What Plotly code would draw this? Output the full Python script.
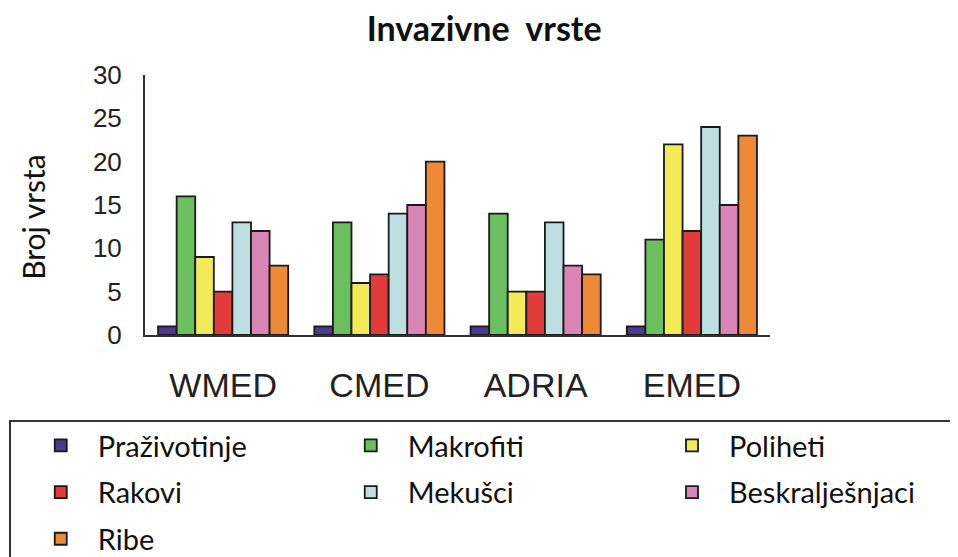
import plotly.graph_objects as go

regions = ['WMED', 'CMED', 'ADRIA', 'EMED']

skupine = ['Praživotinje', 'Makrofiti', 'Poliheti', 'Rakovi', 'Mekušci', 'Beskralješnjaci', 'Ribe']
prazivotinje = [1, 1, 1, 1]
makrofiti = [16, 13, 14, 11]
poliheti = [9, 6, 5, 22]
rakovi = [5, 7, 5, 12]
mekusci = [13, 14, 13, 24]
beskraljesnjaci = [12, 15, 8, 15]
ribe = [8, 20, 7, 23]

y_ticks = [0, 5, 10, 15, 20, 25, 30]

boje = ['#4B3A8F', '#6BBF5F', '#F2EA57', '#E23B3B', '#BEDFE2', '#D985B5', '#EE8936']
# legenda u tri stupca, kao na slici
legende = ['legend', 'legend2', 'legend3', 'legend', 'legend2', 'legend3', 'legend']

serije = [prazivotinje, makrofiti, poliheti, rakovi, mekusci, beskraljesnjaci, ribe]

fig = go.Figure()
for ime, vrijednosti, boja, leg in zip(skupine, serije, boje, legende):
    fig.add_trace(go.Bar(x=regions, y=vrijednosti, name=ime, legendgroup=ime, legend=leg,
                         marker=dict(color=boja, line=dict(color='#1a1a1a', width=1.8))))

tekst_font = 'Lato, Noto Sans, sans-serif'
leg_opts = dict(orientation='v', xanchor='left', yanchor='top', bgcolor='rgba(0,0,0,0)',
                borderwidth=0, itemwidth=64, tracegroupgap=6,
                font=dict(family=tekst_font, size=29, color='#111'))

# stranica ima 8px margine oko grafa, pa je sve pomaknuto za 8px
fig.update_layout(
    width=958, height=557,
    margin=dict(l=137, r=196, t=67, b=230, autoexpand=False),
    plot_bgcolor='white', paper_bgcolor='white',
    barmode='group', bargap=0.167, bargroupgap=0,
    title=dict(text='<b>Invazivne  vrste</b>', x=0.497, xref='container', xanchor='center',
               y=0.962, yanchor='middle', font=dict(family=tekst_font, size=34, color='#111')),
    legend=dict(x=-0.194, y=-0.327, **leg_opts),
    legend2=dict(x=0.302, y=-0.327, **leg_opts),
    legend3=dict(x=0.816, y=-0.327, **leg_opts),
)

fig.update_xaxes(showline=True, linecolor='#333', linewidth=2, showgrid=False, ticks='',
                 ticklabelstandoff=19, range=[-0.5, 3.5],
                 tickfont=dict(family='Liberation Sans, Arial', size=34, color='#222'))
fig.update_yaxes(showline=True, linecolor='#333', linewidth=2, showgrid=False, zeroline=False,
                 range=[0, 30], tickvals=y_ticks, ticks='', ticklabelstandoff=16,
                 tickfont=dict(family='Liberation Sans, Arial', size=26, color='#222'))

fig.add_annotation(text='Broj vrsta', textangle=-90, xref='paper', yref='paper',
                   x=-0.179, y=0.455, xanchor='center', yanchor='middle', showarrow=False,
                   font=dict(family=tekst_font, size=30, color='#111'))

# okvir legende, desni i donji rub izlaze iz slike
fig.add_shape(type='rect', xref='paper', yref='paper', x0=-0.216, x1=1.33, y0=-0.923, y1=-0.331,
              line=dict(color='#333', width=2), fillcolor='rgba(0,0,0,0)', layer='below')

fig.write_html('out.html')
